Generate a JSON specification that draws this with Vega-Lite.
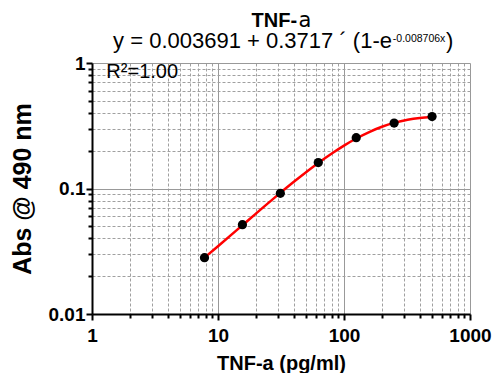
{
  "$schema": "https://vega.github.io/schema/vega-lite/v6.json",
  "width": 378,
  "height": 251,
  "autosize": {"type": "none"},
  "padding": {"left": 92, "top": 63, "right": 22, "bottom": 59},
  "background": "white",
  "config": {"view": {"stroke": null}, "font": "Liberation Sans"},
  "layer": [
    {
      "data": {"values": [
        {"conc": 7.8125, "abs": 0.02813},
        {"conc": 10, "abs": 0.03468},
        {"conc": 15.625, "abs": 0.05096},
        {"conc": 20, "abs": 0.06309},
        {"conc": 31.25, "abs": 0.09224},
        {"conc": 40, "abs": 0.1130},
        {"conc": 62.5, "abs": 0.15968},
        {"conc": 80, "abs": 0.19016},
        {"conc": 100, "abs": 0.21976},
        {"conc": 125, "abs": 0.25021},
        {"conc": 160, "abs": 0.28309},
        {"conc": 200, "abs": 0.31022},
        {"conc": 250, "abs": 0.33323},
        {"conc": 320, "abs": 0.35246},
        {"conc": 400, "abs": 0.36396},
        {"conc": 500, "abs": 0.37061}
      ]},
      "mark": {"type": "line", "color": "#ff0000", "strokeWidth": 2.5, "interpolate": "monotone"},
      "encoding": {
        "x": {
          "field": "conc",
          "type": "quantitative",
          "scale": {"type": "log", "domain": [1, 1000], "nice": false},
          "axis": {
            "title": "TNF-a (pg/ml)",
            "values": [1,2,3,4,5,6,7,8,9,10,20,30,40,50,60,70,80,90,100,200,300,400,500,600,700,800,900,1000],
            "labelExpr": "indexof([1,10,100,1000], datum.value) >= 0 ? format(datum.value, 'd') : ''",
            "labelOverlap": false,
            "labelFlush": false,
            "labelBound": false,
            "grid": true,
            "gridColor": {"condition": {"test": "indexof([1,10,100,1000], datum.value) >= 0", "value": "#999999"}, "value": "#a0a0a0"},
            "gridDash": {"condition": {"test": "indexof([1,10,100,1000], datum.value) >= 0", "value": []}, "value": [3, 2]},
            "gridWidth": 1,
            "domainColor": "black",
            "domainWidth": 2,
            "tickColor": "black",
            "tickWidth": 2,
            "tickSize": {"condition": {"test": "indexof([1,10,100,1000], datum.value) >= 0", "value": 6}, "value": 4},
            "labelFont": "Liberation Sans",
            "labelFontSize": 19,
            "labelFontWeight": "bold",
            "labelColor": "black",
            "labelPadding": 6,
            "titleFont": "Liberation Sans",
            "titleFontSize": 20,
            "titleFontWeight": "bold",
            "titleColor": "black",
            "titlePadding": 8
          }
        },
        "y": {
          "field": "abs",
          "type": "quantitative",
          "scale": {"type": "log", "domain": [0.01, 1], "nice": false},
          "axis": {
            "title": "Abs @ 490 nm",
            "values": [0.01,0.02,0.03,0.04,0.05,0.06,0.07,0.08,0.09,0.1,0.2,0.3,0.4,0.5,0.6,0.7,0.8,0.9,1],
            "labelExpr": "indexof([0.01,0.1,1], datum.value) >= 0 ? format(datum.value, '~g') : ''",
            "labelOverlap": false,
            "labelFlush": false,
            "labelBound": false,
            "grid": true,
            "gridColor": {"condition": {"test": "indexof([0.01,0.1,1], datum.value) >= 0", "value": "#999999"}, "value": "#a0a0a0"},
            "gridDash": {"condition": {"test": "indexof([0.01,0.1,1], datum.value) >= 0", "value": []}, "value": [3, 2]},
            "gridWidth": 1,
            "domainColor": "black",
            "domainWidth": 2,
            "tickColor": "black",
            "tickWidth": 2,
            "tickSize": {"condition": {"test": "indexof([0.01,0.1,1], datum.value) >= 0", "value": 6}, "value": 4},
            "labelFont": "Liberation Sans",
            "labelFontSize": 19,
            "labelFontWeight": "bold",
            "labelColor": "black",
            "labelPadding": 1,
            "titleFont": "Liberation Sans",
            "titleFontSize": 25,
            "titleFontWeight": "bold",
            "titleColor": "black",
            "titlePadding": 13
          }
        }
      }
    },
    {
      "data": {"values": [
        {"conc": 7.8125, "abs": 0.0281},
        {"conc": 15.625, "abs": 0.0515},
        {"conc": 31.25, "abs": 0.0915},
        {"conc": 62.5, "abs": 0.161},
        {"conc": 125, "abs": 0.254},
        {"conc": 250, "abs": 0.332},
        {"conc": 500, "abs": 0.374}
      ]},
      "mark": {"type": "circle", "color": "black", "opacity": 1, "size": 85},
      "encoding": {
        "x": {"field": "conc", "type": "quantitative"},
        "y": {"field": "abs", "type": "quantitative"}
      }
    },
    {
      "data": {"values": [{"label": "R²=1.00"}]},
      "mark": {"type": "text", "align": "left", "baseline": "alphabetic", "font": "Liberation Sans", "fontSize": 20, "color": "black"},
      "encoding": {"text": {"field": "label"}, "x": {"datum": 1.3, "type": "quantitative"}, "y": {"datum": 0.76, "type": "quantitative"}}
    },
    {
      "data": {"values": [{"label": "TNF-"}]},
      "mark": {"type": "text", "align": "right", "baseline": "alphabetic", "font": "Liberation Sans", "fontSize": 20, "fontWeight": "bold", "color": "black"},
      "encoding": {"text": {"field": "label"}, "x": {"datum": 42.4, "type": "quantitative"}, "y": {"datum": 1.92, "type": "quantitative"}}
    },
    {
      "data": {"values": [{"label": "a"}]},
      "mark": {"type": "text", "align": "left", "baseline": "alphabetic", "font": "DejaVu Sans", "fontSize": 21, "fontWeight": "normal", "color": "black"},
      "encoding": {"text": {"field": "label"}, "x": {"datum": 43.5, "type": "quantitative"}, "y": {"datum": 1.92, "type": "quantitative"}}
    },
    {
      "data": {"values": [{"label": "y = 0.003691 + 0.3717  ´  (1-e"}]},
      "mark": {"type": "text", "align": "right", "baseline": "alphabetic", "font": "Liberation Sans", "fontSize": 22, "color": "black"},
      "encoding": {"text": {"field": "label"}, "x": {"datum": 240.4, "type": "quantitative"}, "y": {"datum": 1.317, "type": "quantitative"}}
    },
    {
      "data": {"values": [{"label": "-0.008706x"}]},
      "mark": {"type": "text", "align": "left", "baseline": "alphabetic", "font": "Liberation Sans", "fontSize": 10.5, "color": "black"},
      "encoding": {"text": {"field": "label"}, "x": {"datum": 244, "type": "quantitative"}, "y": {"datum": 1.47, "type": "quantitative"}}
    },
    {
      "data": {"values": [{"label": ")"}]},
      "mark": {"type": "text", "align": "left", "baseline": "alphabetic", "font": "Liberation Sans", "fontSize": 22, "color": "black"},
      "encoding": {"text": {"field": "label"}, "x": {"datum": 645, "type": "quantitative"}, "y": {"datum": 1.317, "type": "quantitative"}}
    }
  ]
}
